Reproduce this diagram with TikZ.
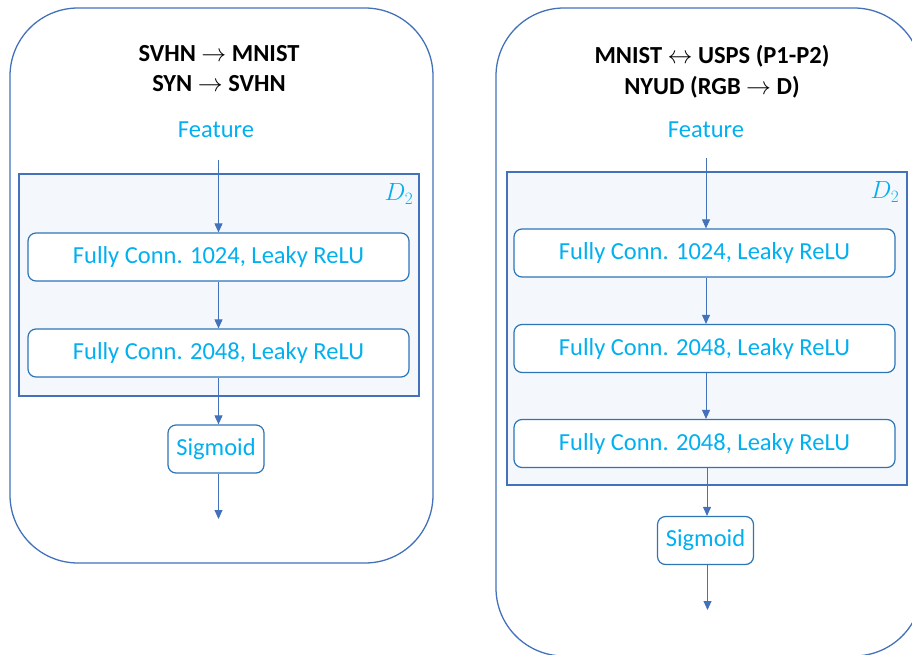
\documentclass[tikz,border=0pt]{standalone}
\usepackage{fontspec}
\setmainfont{Carlito}
\usetikzlibrary{arrows.meta}
\definecolor{lineblue}{RGB}{68,114,186}
\definecolor{boxblue}{RGB}{46,117,182}
\definecolor{txtcyan}{RGB}{0,176,240}
\definecolor{dfill}{RGB}{244,248,252}
\tikzset{
  outerbox/.style={draw=lineblue,line width=1.3pt,rounded corners=68pt,inner sep=0pt},
  dbox/.style={draw=lineblue,line width=1.4pt,fill=dfill,inner sep=0pt},
  fcbox/.style={draw=boxblue,line width=1.2pt,fill=white,rounded corners=8pt,
    minimum width=381pt,minimum height=48pt,inner sep=0pt,
    text=txtcyan,font=\fontsize{24.5}{27}\selectfont},
  sigbox/.style={draw=boxblue,line width=1.2pt,fill=white,rounded corners=8pt,
    minimum width=96pt,minimum height=48pt,inner sep=0pt,
    text=txtcyan,font=\fontsize{24.5}{27}\selectfont},
  feat/.style={text=txtcyan,font=\fontsize{24.5}{27}\selectfont,inner sep=0pt},
  ttl/.style={font=\bfseries\fontsize{24.5}{27}\selectfont,inner sep=0pt},
  dlab/.style={text=txtcyan,font=\fontsize{27}{29}\selectfont,inner sep=0pt},
  conn/.style={draw=lineblue,line width=0.9pt,-{Triangle[width=8pt,length=9pt]}},
}
\begin{document}
\begin{tikzpicture}[x=1pt,y=-1pt]
\useasboundingbox (0,0) rectangle (912,655);
\clip (0,0) rectangle (912,655);
% ---------- left panel ----------
\node[outerbox,minimum width=423pt,minimum height=555pt] (L) at (221.5,285.5) {};
\node[ttl] (Lt1) at (219,54) {SVHN $\rightarrow$ MNIST};
\node[ttl] (Lt2) at (219,84) {SYN $\rightarrow$ SVHN};
\node[feat] (Lf) at (216,130) {Feature};
\node[dbox,minimum width=400pt,minimum height=222pt] (LD) at (219,285) {};
\node[dlab] (LDl) at (399,194) {$D_2$};
\node[fcbox] (L1) at (218.5,257) {Fully Conn. 1024, Leaky ReLU};
\node[fcbox] (L2) at (218.5,353) {Fully Conn. 2048, Leaky ReLU};
\node[sigbox] (Ls) at (216,449) {Sigmoid};
\coordinate (Lfo) at (218.5,160);
\coordinate (Lend) at (218.5,519);
\draw[conn] (Lfo) -- (L1.north -| Lfo);
\draw[conn] (L1.south -| Lfo) -- (L2.north -| Lfo);
\draw[conn] (L2.south -| Lfo) -- (Ls.north -| Lfo);
\draw[conn] (Ls.south -| Lfo) -- (Lend);
% ---------- right panel ----------
\node[outerbox,minimum width=426pt,minimum height=648pt] (R) at (709,332) {};
\node[ttl] (Rt1) at (712,56) {MNIST $\leftrightarrow$ USPS (P1-P2)};
\node[ttl] (Rt2) at (712,87) {NYUD (RGB $\rightarrow$ D)};
\node[feat] (Rf) at (706,130) {Feature};
\node[dbox,minimum width=400pt,minimum height=313pt] (RD) at (707,328.5) {};
\node[dlab] (RDl) at (885,192) {$D_2$};
\node[fcbox] (R1) at (704.5,253) {Fully Conn. 1024, Leaky ReLU};
\node[fcbox] (R2) at (704.5,348.5) {Fully Conn. 2048, Leaky ReLU};
\node[fcbox] (R3) at (704.5,443.5) {Fully Conn. 2048, Leaky ReLU};
\node[sigbox] (Rs) at (705.5,540.5) {Sigmoid};
\coordinate (Rfo) at (706,158);
\coordinate (Rs1) at (707,158);
\coordinate (Rend) at (707.5,610);
\draw[conn] (Rfo) -- (R1.north -| Rfo);
\draw[conn] (R1.south -| Rfo) -- (R2.north -| Rfo);
\draw[conn] (R2.south -| Rfo) -- (R3.north -| Rfo);
\draw[conn] (R3.south -| Rs1) -- (Rs.north -| Rs1);
\draw[conn] (Rs.south -| Rend) -- (Rend);
\end{tikzpicture}
\end{document}
